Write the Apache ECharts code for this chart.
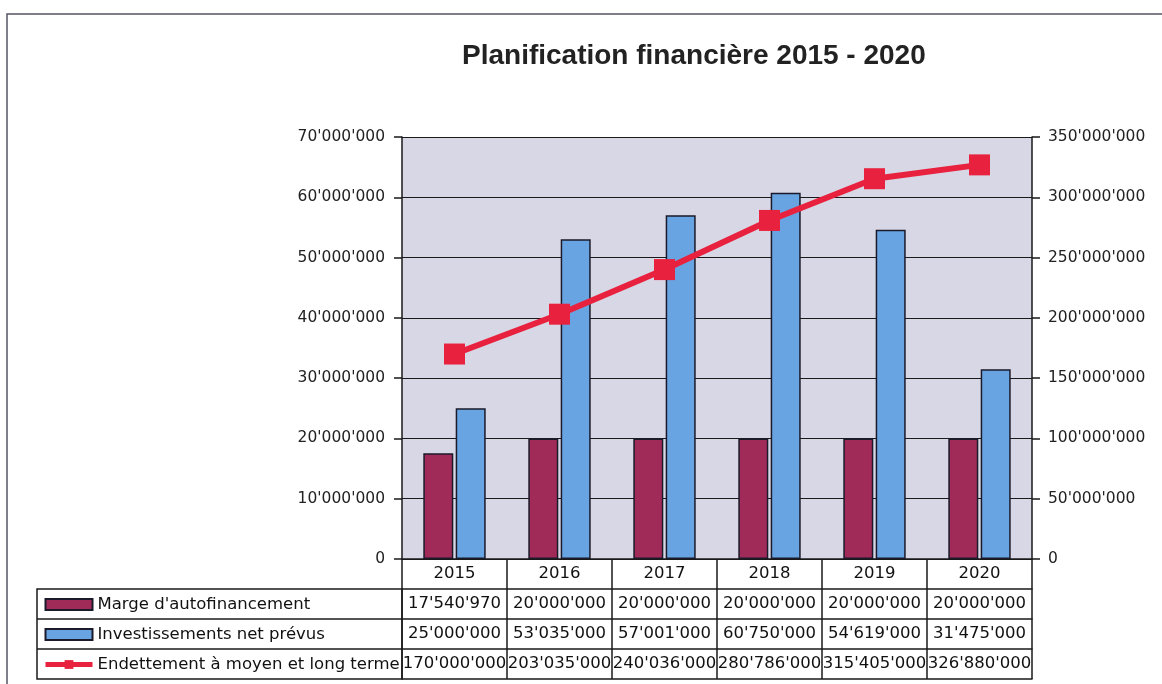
<!DOCTYPE html>
<html>
<head>
<meta charset="utf-8">
<script src="https://cdn.jsdelivr.net/npm/echarts@6/dist/echarts.min.js"></script>
<style>
html,body{margin:0;padding:0;background:#fff;}
#c{width:1162px;height:684px;}
</style>
</head>
<body>
<div id="c"></div>
<script>
const years = ['2015', '2016', '2017', '2018', '2019', '2020'];
const marge = [17540970, 20000000, 20000000, 20000000, 20000000, 20000000];
const invest = [25000000, 53035000, 57001000, 60750000, 54619000, 31475000];
const endett = [170000000, 203035000, 240036000, 280786000, 315405000, 326880000];
const seriesNames = ['Marge d\'autofinancement', 'Investissements net prévus', 'Endettement à moyen et long terme'];

function fmt(n) {
  return String(Math.round(n)).replace(/\B(?=(\d{3})+(?!\d))/g, "'");
}

const FONT = 'DejaVu Sans';
const gridLeft = 402, gridRight = 1032, gridTop = 137, gridBottom = 559;
const rowH = 30;
const W = 1162, H = 684;

const chart = echarts.init(document.getElementById('c'), null, {renderer: 'canvas'});

const lineClr = '#1a1a1a';
function tableAxis(offset, values, showLabels) {
  return {
    type: 'category',
    data: years,
    gridIndex: 0,
    position: 'bottom',
    offset: offset,
    boundaryGap: true,
    axisLine: {show: true, onZero: false, lineStyle: {color: lineClr, width: 1.5}},
    axisTick: {show: false},
    axisLabel: {
      show: showLabels, interval: 0, margin: 7,
      fontFamily: FONT, fontSize: 16.5, lineHeight: 16, color: '#111',
      formatter: function (v, i) { return values ? fmt(values[i]) : v; }
    },
    splitLine: {show: false}
  };
}

// vertical table lines at category boundaries
const tableLines = [];
const nCols = years.length;
for (let i = 0; i <= nCols; i++) {
  const x = gridLeft + i * (gridRight - gridLeft) / nCols;
  tableLines.push({
    type: 'line', silent: true, z: 100,
    shape: {x1: x, y1: gridBottom, x2: x, y2: gridBottom + rowH * 4},
    style: {stroke: lineClr, lineWidth: 1.5}
  });
}

const option = {
  animation: false,
  backgroundColor: '#ffffff',
  title: {
    text: 'Planification financière 2015 - 2020',
    left: 457, top: 37,
    textStyle: {fontFamily: 'Liberation Sans', fontWeight: 'bold', fontSize: 28, color: '#222'}
  },
  grid: {
    left: gridLeft, right: W - gridRight, top: gridTop, bottom: H - gridBottom,
    show: true, backgroundColor: '#d8d7e5', borderWidth: 0
  },
  legend: {
    orient: 'vertical',
    left: 43, top: 596, padding: 0,
    itemWidth: 47, itemHeight: 11, itemGap: 13,
    textStyle: {fontFamily: FONT, fontSize: 16.5, lineHeight: 17, color: '#111'},
    data: [
      {name: seriesNames[0], icon: 'rect'},
      {name: seriesNames[1], icon: 'rect'},
      {name: seriesNames[2], lineStyle: {width: 5}}
    ]
  },
  xAxis: [
    tableAxis(0, null, true),
    tableAxis(rowH, marge, true),
    tableAxis(rowH * 2, invest, true),
    tableAxis(rowH * 3, endett, true),
    tableAxis(rowH * 4, null, false)
  ],
  yAxis: [
    {
      type: 'value', min: 0, max: 70000000, interval: 10000000,
      position: 'left',
      axisLine: {show: true, lineStyle: {color: lineClr, width: 1.5}},
      axisTick: {show: true, length: 8, lineStyle: {color: lineClr, width: 1.5}},
      axisLabel: {margin: 17, fontFamily: FONT, fontSize: 15.5, color: '#222', formatter: fmt},
      splitLine: {show: true, lineStyle: {color: '#1a1a1a', width: 1.2}}
    },
    {
      type: 'value', min: 0, max: 350000000, interval: 50000000,
      position: 'right',
      axisLine: {show: true, lineStyle: {color: lineClr, width: 1.5}},
      axisTick: {show: true, length: 8, lineStyle: {color: lineClr, width: 1.5}},
      axisLabel: {margin: 16, fontFamily: FONT, fontSize: 15.5, color: '#222', formatter: fmt},
      splitLine: {show: false}
    }
  ],
  series: [
    {
      name: seriesNames[0], type: 'bar', xAxisIndex: 0, yAxisIndex: 0,
      data: marge, barWidth: 30, barGap: '8%',
      itemStyle: {color: '#a02a58', borderColor: '#1a1a2a', borderWidth: 1.5}
    },
    {
      name: seriesNames[1], type: 'bar', xAxisIndex: 0, yAxisIndex: 0,
      data: invest, barWidth: 30, barGap: '8%',
      itemStyle: {color: '#68a4e2', borderColor: '#1a1a2a', borderWidth: 1.5}
    },
    {
      name: seriesNames[2], type: 'line', xAxisIndex: 0, yAxisIndex: 1,
      data: endett, symbol: 'rect', symbolSize: 21,
      lineStyle: {color: '#e8223e', width: 6},
      itemStyle: {color: '#e8223e'}
    }
  ],
  graphic: [
    {
      type: 'rect', silent: true, z: 100,
      shape: {x: 7, y: 14, width: W + 20, height: H + 20},
      style: {fill: 'none', stroke: '#555566', lineWidth: 1.5}
    },
    {
      type: 'rect', silent: true, z: 100,
      shape: {x: 37, y: gridBottom + rowH, width: gridLeft - 37, height: rowH * 3},
      style: {fill: 'none', stroke: lineClr, lineWidth: 1.5}
    },
    {
      type: 'line', silent: true, z: 100,
      shape: {x1: 37, y1: gridBottom + rowH * 2, x2: gridLeft, y2: gridBottom + rowH * 2},
      style: {stroke: lineClr, lineWidth: 1.5}
    },
    {
      type: 'line', silent: true, z: 100,
      shape: {x1: 37, y1: gridBottom + rowH * 3, x2: gridLeft, y2: gridBottom + rowH * 3},
      style: {stroke: lineClr, lineWidth: 1.5}
    }
  ].concat(tableLines)
};
chart.setOption(option);
</script>
</body>
</html>
